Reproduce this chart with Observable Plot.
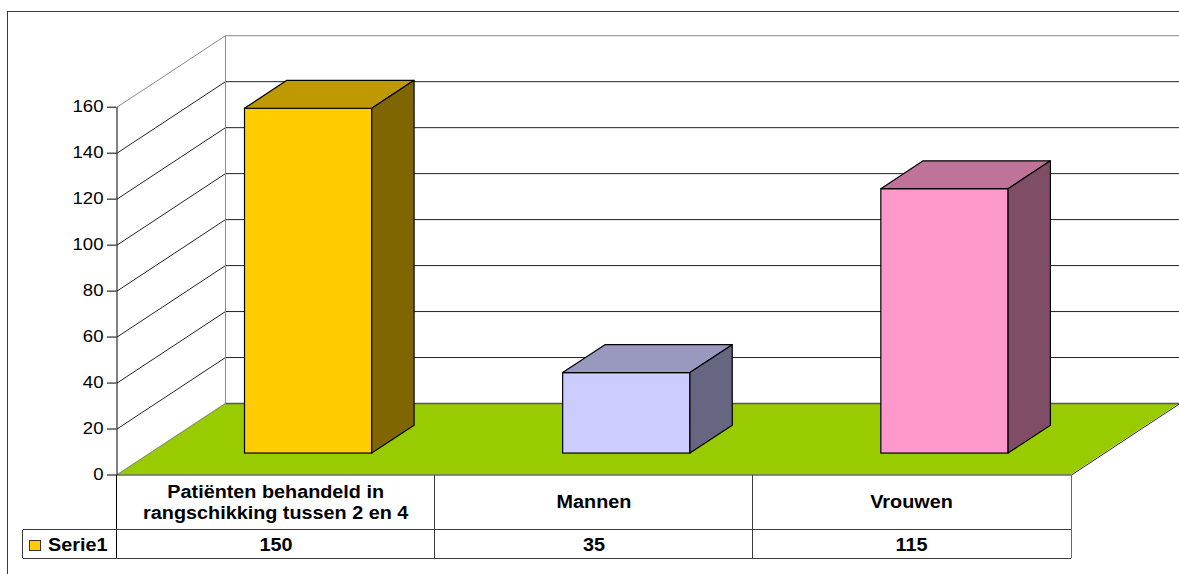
<!DOCTYPE html>
<html><head><meta charset="utf-8">
<script src="https://cdn.jsdelivr.net/npm/d3@7"></script>
<script src="https://cdn.jsdelivr.net/npm/@observablehq/plot@0.6"></script>
<style>
html,body{margin:0;padding:0;background:#fff;overflow:hidden;}
#wrap{position:relative;width:1179px;height:574px;overflow:hidden;font-family:"Liberation Sans",Arial,sans-serif;}
#frame{position:absolute;left:7px;top:11px;width:1300px;height:700px;border:1.6px solid #3a3a3a;box-sizing:border-box;}
#chart{position:absolute;left:0;top:0;}
.ln{position:absolute;background:#3c3c3c;}
.cell{position:absolute;display:flex;align-items:center;justify-content:center;text-align:center;font-weight:bold;font-size:18px;color:#000;line-height:21px;box-sizing:border-box;}
.cell span{display:inline-block;transform:scaleX(1.1);}
</style></head>
<body><div id="wrap"><div id="frame"></div><div id="chart"></div><div id="table"></div></div>
<script>
// ---- data ----
const categories = ["Patiënten behandeld in rangschikking tussen 2 en 4", "Mannen", "Vrouwen"];
const values = [150, 35, 115];
const seriesName = "Serie1";
const yTicks = [0, 20, 40, 60, 80, 100, 120, 140, 160];
const barColors = ["#FFCC00", "#CCCCFF", "#FF99CC"];

// ---- 3D projection parameters (in scale units) ----
const N = categories.length;
const DX = 0.341, DY = 31.1;          // full floor depth projected on x (categories) and y (values)
const D0 = 0.30, DD = 0.39, BAR_W = 0.4;
const yMax = yTicks[yTicks.length - 1];
const shade = (c, k) => { const r = d3.rgb(c); return d3.rgb(r.r * k, r.g * k, r.b * k).formatHex(); };

const bars = categories.map((c, i) => {
  const xl = i + 0.5 - BAR_W / 2 + D0 * DX;
  return {i, c, v: values[i], xl, xr: xl + BAR_W, y0: D0 * DY, y1: values[i] + D0 * DY, color: barColors[i]};
});
const topFaces = bars.flatMap(b => [
  {id: b.i, y: b.y1, x1: b.xl, x2: b.xr, fill: shade(b.color, 0.75)},
  {id: b.i, y: b.y1 + DD * DY, x1: b.xl + DD * DX, x2: b.xr + DD * DX, fill: shade(b.color, 0.75)}
]);
const sideFaces = bars.flatMap(b => [
  {id: b.i, x: b.xr, y1: b.y0, y2: b.y1, fill: shade(b.color, 0.5)},
  {id: b.i, x: b.xr + DD * DX, y1: b.y0 + DD * DY, y2: b.y1 + DD * DY, fill: shade(b.color, 0.5)}
]);
const floor = [{y: 0, x1: 0, x2: N}, {y: DY, x1: DX, x2: N + DX}];
const grid = yTicks.filter(t => t > 0);
const gridColor = d => d === yMax ? "#8a8a8a" : "#222";

const chart = Plot.plot({
  width: 1179, height: 480,
  marginLeft: 116.5, marginRight: 108, marginTop: 106.7, marginBottom: 5.5,
  x: {domain: [0, N], axis: null},
  y: {domain: [0, yMax], axis: null},
  color: {type: "identity"},
  style: {fontFamily: "'Liberation Sans', Arial, sans-serif", fontSize: "16px", background: "transparent", overflow: "visible", color: "#000"},
  marks: [
    Plot.link(grid, {x1: 0, y1: d => d, x2: DX, y2: d => d + DY, stroke: gridColor, strokeWidth: 1}),
    Plot.link(grid, {x1: DX, x2: N + DX, y1: d => d + DY, y2: d => d + DY, stroke: gridColor, strokeWidth: 1}),
    Plot.link([0], {x1: DX, x2: DX, y1: DY, y2: yMax + DY, stroke: "#8a8a8a", strokeWidth: 1}),
    Plot.areaX(floor, {y: "y", x1: "x1", x2: "x2", fill: "#99CC00"}),
    Plot.link([0], {x1: DX, x2: N + DX, y1: DY, y2: DY, stroke: "#555", strokeWidth: 1.6}),
    Plot.link([0], {x1: 0, x2: DX, y1: 0, y2: DY, stroke: "#8a8a8a", strokeWidth: 1}),
    Plot.link([0], {x1: N, x2: N + DX, y1: 0, y2: DY, stroke: "#222", strokeWidth: 1}),
    Plot.link([0], {x1: 0, x2: N, y1: 0, y2: 0, stroke: "#222", strokeWidth: 1}),
    Plot.link([0], {x1: 0, x2: 0, y1: 0, y2: yMax, stroke: "#000", strokeWidth: 1}),
    Plot.axisY(yTicks, {anchor: "left", tickSize: 9.5, tickPadding: 4, fontSize: 16, label: null}),
    Plot.rect(bars, {x1: "xl", x2: "xr", y1: "y0", y2: "y1", fill: "color", stroke: "#000", strokeWidth: 1.2}),
    Plot.areaX(topFaces, {y: "y", x1: "x1", x2: "x2", z: "id", fill: "fill", stroke: "#000", strokeWidth: 1.2, strokeLinejoin: "round"}),
    Plot.areaY(sideFaces, {x: "x", y1: "y1", y2: "y2", z: "id", fill: "fill", stroke: "#000", strokeWidth: 1.2, strokeLinejoin: "round"})
  ]
});
chart.querySelectorAll("text").forEach(t => {
  const tr = t.getAttribute("transform");
  if (tr) t.setAttribute("transform", tr + " scale(1.16,1)");
});
document.getElementById("chart").appendChild(chart);

// ---- data table below the chart ----
const xs = chart.scale("x"), ys = chart.scale("y");
const edges = d3.range(N + 1).map(i => xs.apply(i));
const top0 = ys.apply(0);
const rowH1 = 55.2, rowH2 = 28.6, legendLeft = 22.7;
const bottom = top0 + rowH1 + rowH2;
const table = document.getElementById("table");
function line(x, y, w, h, color) {
  const d = document.createElement("div");
  d.className = "ln";
  Object.assign(d.style, {left: x + "px", top: y + "px", width: w + "px", height: h + "px"});
  if (color) d.style.background = color;
  table.appendChild(d);
}
edges.forEach((x, i) => line(x - 0.5, top0, 1, bottom - top0, i === 0 ? "#000" : (i === N ? "#6a6a6a" : "#3c3c3c")));
line(legendLeft - 0.5, top0 + rowH1, 1, rowH2);
line(legendLeft, top0 + rowH1 - 0.5, edges[N] - legendLeft, 1);
line(legendLeft, bottom - 0.5, edges[N] - legendLeft, 1);

function cell(x, y, w, h, html, extra) {
  const d = document.createElement("div");
  d.className = "cell";
  Object.assign(d.style, {left: x + "px", top: y + "px", width: w + "px", height: h + "px"}, extra || {});
  d.innerHTML = html;
  table.appendChild(d);
  return d;
}
categories.forEach((c, i) => {
  const w = edges[i + 1] - edges[i];
  cell(edges[i], top0, w, rowH1, `<span style="max-width:${(w - 24) / 1.1}px">${c}</span>`, {paddingTop: "1px"});
  cell(edges[i], top0 + rowH1, w, rowH2, `<span style="transform:translateY(2px) scaleX(1.1)">${values[i]}</span>`);
});
cell(legendLeft, top0 + rowH1, edges[0] - legendLeft, rowH2,
  `<i style="display:inline-block;width:10px;height:9px;background:${barColors[0]};border:1px solid #333;margin-top:4px"></i>` +
  `<span style="transform-origin:left center;transform:translateY(2px) scaleX(1.1);margin-left:7px">${seriesName}</span>`,
  {justifyContent: "flex-start", paddingLeft: "6.3px"});
</script>
</body></html>
